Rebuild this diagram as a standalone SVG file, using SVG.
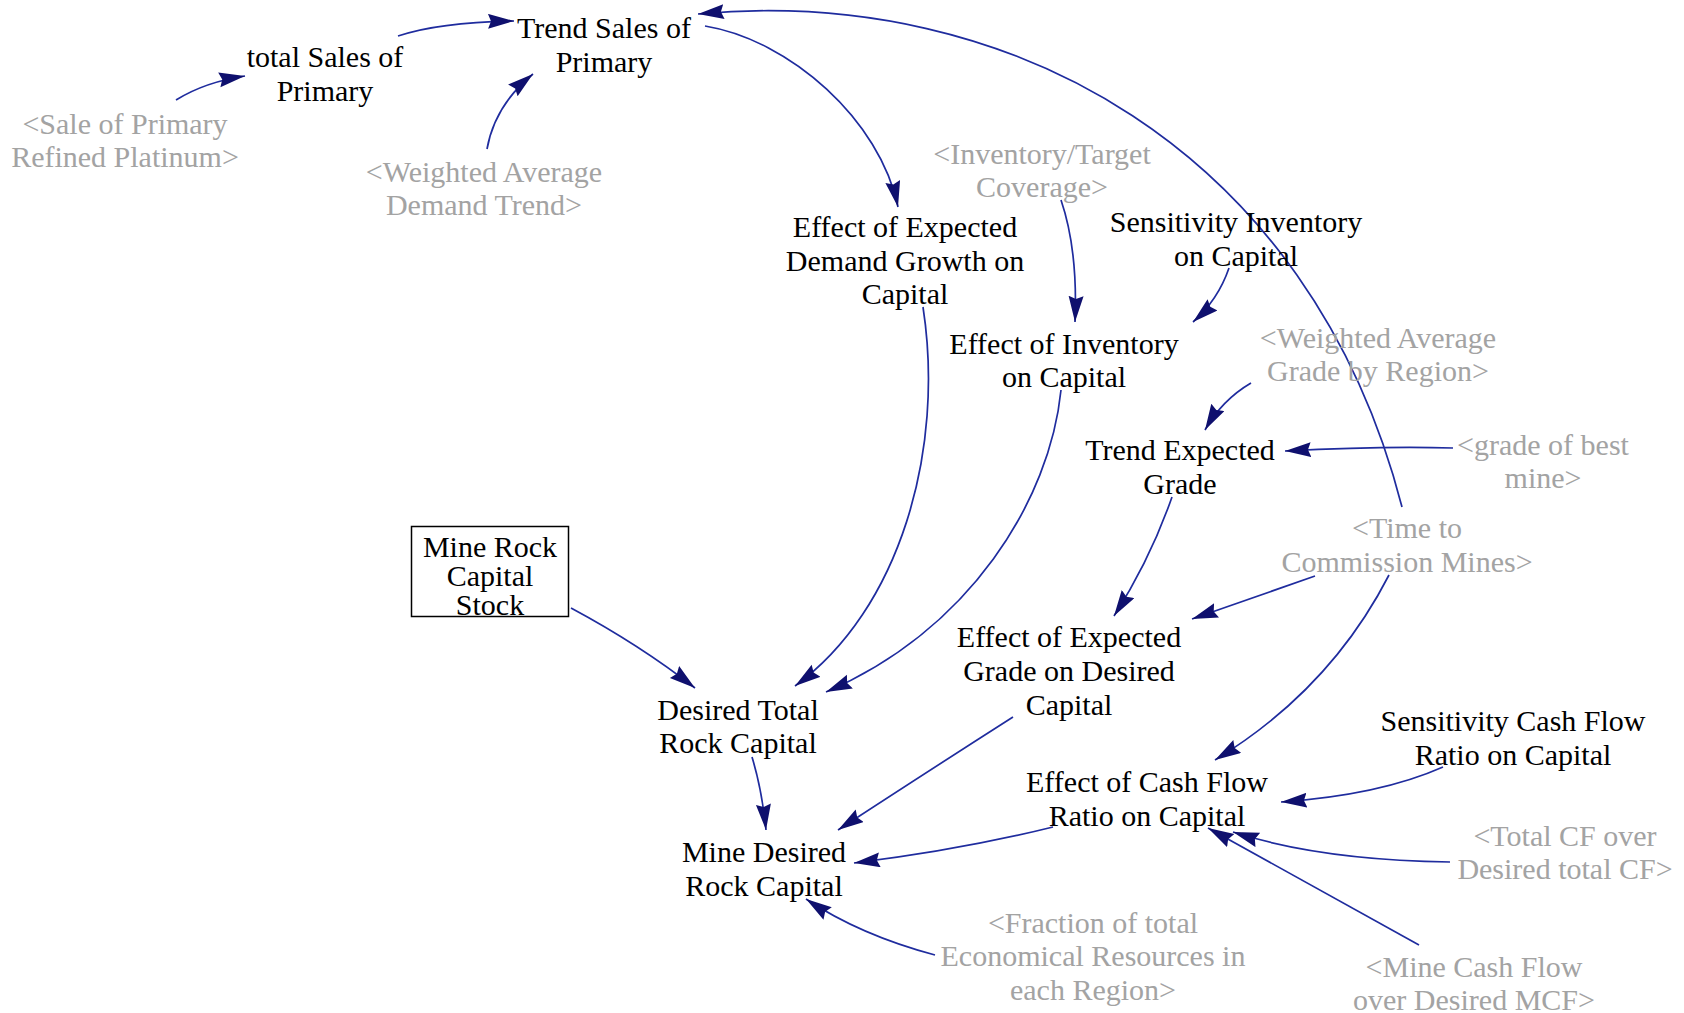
<svg xmlns="http://www.w3.org/2000/svg" width="1684" height="1013" viewBox="0 0 1684 1013">
<defs>
<marker id="ah" markerUnits="userSpaceOnUse" markerWidth="28" markerHeight="16" refX="26" refY="7.5" orient="auto">
<path d="M0,0 L26,7.5 L0,15 L3,7.5 z" fill="#0f106e"/>
</marker>
<style>
.t{font-family:"Liberation Serif","Times New Roman",serif;font-size:30px;fill:#000;text-anchor:middle}
.g{font-family:"Liberation Serif","Times New Roman",serif;font-size:30px;fill:#a3a3a3;text-anchor:middle}
.c path{fill:none;stroke:#1f2c9e;stroke-width:1.7;marker-end:url(#ah)}
</style>
</defs>
<rect width="1684" height="1013" fill="#fff"/>
<g class="c" id="connectors">
<path d="M176,100 Q205,82 245,76"/>
<path d="M398,36 Q440,22 514,21"/>
<path d="M487,149 Q495,105 533,74"/>
<path d="M705,26 C790,40 880,120 898,207"/>
<path d="M1402,507 C1310,150 1010,-15 698,14"/>
<path d="M1061,200 Q1078,250 1075,322"/>
<path d="M1229,268 Q1218,300 1193,322"/>
<path d="M923,307 C945,450 900,610 795,686"/>
<path d="M1061,390 C1050,500 970,630 826,692"/>
<path d="M571,608 Q640,645 695,688"/>
<path d="M752,757 Q762,790 766,830"/>
<path d="M1013,717 Q930,770 838,830"/>
<path d="M1053,827 Q960,850 854,863"/>
<path d="M935,955 Q860,935 806,899"/>
<path d="M1443,767 Q1380,795 1281,802"/>
<path d="M1450,862 Q1320,860 1233,832"/>
<path d="M1419,945 L1208,828"/>
<path d="M1389,575 Q1330,690 1215,760"/>
<path d="M1315,576 L1192,619"/>
<path d="M1172,497 Q1150,560 1114,616"/>
<path d="M1251,383 Q1222,400 1205,430"/>
<path d="M1453,448 Q1380,446 1285,451"/>
</g>
<g id="trendSales"><text class="t" x="604" y="38">Trend Sales of</text><text class="t" x="604" y="72">Primary</text></g>
<g id="totalSales"><text class="t" x="325" y="67">total Sales of</text><text class="t" x="325" y="101">Primary</text></g>
<g id="saleOfPrimary"><text class="g" x="125" y="134">&lt;Sale of Primary</text><text class="g" x="125" y="167">Refined Platinum&gt;</text></g>
<g id="weightedDemand"><text class="g" x="484" y="182">&lt;Weighted Average</text><text class="g" x="484" y="215">Demand Trend&gt;</text></g>
<g id="inventoryTarget"><text class="g" x="1042" y="164">&lt;Inventory/Target</text><text class="g" x="1042" y="197">Coverage&gt;</text></g>
<g id="effectDemand"><text class="t" x="905" y="237">Effect of Expected</text><text class="t" x="905" y="271">Demand Growth on</text><text class="t" x="905" y="304">Capital</text></g>
<g id="sensInventory"><text class="t" x="1236" y="232">Sensitivity Inventory</text><text class="t" x="1236" y="266">on Capital</text></g>
<g id="effectInventory"><text class="t" x="1064" y="354">Effect of Inventory</text><text class="t" x="1064" y="387">on Capital</text></g>
<g id="weightedGrade"><text class="g" x="1378" y="348">&lt;Weighted Average</text><text class="g" x="1378" y="381">Grade by Region&gt;</text></g>
<g id="trendGrade"><text class="t" x="1180" y="460">Trend Expected</text><text class="t" x="1180" y="494">Grade</text></g>
<g id="gradeBest"><text class="g" x="1543" y="455">&lt;grade of best</text><text class="g" x="1543" y="488">mine&gt;</text></g>
<g id="timeCommission"><text class="g" x="1407" y="538">&lt;Time to</text><text class="g" x="1407" y="572">Commission Mines&gt;</text></g>
<g id="mineRockStock"><rect x="411.5" y="526.5" width="157" height="90" fill="none" stroke="#000" stroke-width="1.5"/><text class="t" x="490" y="557">Mine Rock</text><text class="t" x="490" y="586">Capital</text><text class="t" x="490" y="615">Stock</text></g>
<g id="effectGrade"><text class="t" x="1069" y="647">Effect of Expected</text><text class="t" x="1069" y="681">Grade on Desired</text><text class="t" x="1069" y="715">Capital</text></g>
<g id="desiredTotal"><text class="t" x="738" y="720">Desired Total</text><text class="t" x="738" y="753">Rock Capital</text></g>
<g id="sensCashFlow"><text class="t" x="1513" y="731">Sensitivity Cash Flow</text><text class="t" x="1513" y="765">Ratio on Capital</text></g>
<g id="effectCashFlow"><text class="t" x="1147" y="792">Effect of Cash Flow</text><text class="t" x="1147" y="826">Ratio on Capital</text></g>
<g id="mineDesired"><text class="t" x="764" y="862">Mine Desired</text><text class="t" x="764" y="896">Rock Capital</text></g>
<g id="totalCF"><text class="g" x="1565" y="846">&lt;Total CF over</text><text class="g" x="1565" y="879">Desired total CF&gt;</text></g>
<g id="fractionTotal"><text class="g" x="1093" y="933">&lt;Fraction of total</text><text class="g" x="1093" y="966">Economical Resources in</text><text class="g" x="1093" y="1000">each Region&gt;</text></g>
<g id="mineCashFlow"><text class="g" x="1474" y="977">&lt;Mine Cash Flow</text><text class="g" x="1474" y="1010">over Desired MCF&gt;</text></g>
</svg>
